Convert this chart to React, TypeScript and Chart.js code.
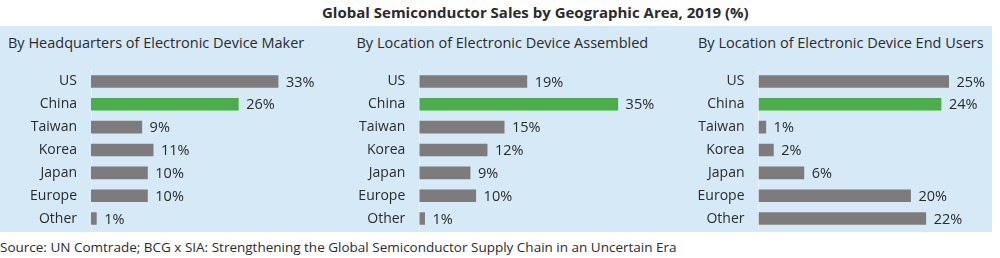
import React, { useEffect, useRef } from "react";
import { Chart, registerables } from "chart.js";

Chart.register(...registerables);

const chartTitle = "Global Semiconductor Sales by Geographic Area, 2019 (%)";
const sourceText =
  "Source: UN Comtrade; BCG x SIA: Strengthening the Global Semiconductor Supply Chain in an Uncertain Era";

const categories = ["US", "China", "Taiwan", "Korea", "Japan", "Europe", "Other"];
const panelTitles = [
  "By Headquarters of Electronic Device Maker",
  "By Location of Electronic Device Assembled",
  "By Location of Electronic Device End Users",
];
const hqValues = [33, 26, 9, 11, 10, 10, 1];
const assembledValues = [19, 35, 15, 12, 9, 10, 1];
const endUserValues = [25, 24, 1, 2, 6, 20, 22];

const GRAY = "#7e7b7c";
const GREEN = "#4cae4a";
const BLUE_BG = "#d5e9f7";
const TEXT = "#2b2b2b";
const FONT = "'Open Sans', sans-serif";

// layout per panel (page coordinates)
const panelLayout = [
  { canvasLeft: 0, axisX: 91, pxPerPct: 5.68, xMax: 40, titleX: 8 },
  { canvasLeft: 330, axisX: 419.3, pxPerPct: 5.68, xMax: 40, titleX: 356.5 },
  { canvasLeft: 670, axisX: 758.5, pxPerPct: 7.62, xMax: 26, titleX: 698 },
];
const CANVAS_TOP = 70;
const CANVAS_H = 160;
const RIGHT_PAD = 40;

const valueLabels = {
  id: "valueLabels",
  afterDatasetsDraw(chart: any) {
    const ctx = chart.ctx;
    const meta = chart.getDatasetMeta(0);
    const data = chart.data.datasets[0].data;
    ctx.save();
    ctx.font = `14.5px ${FONT}`;
    ctx.fillStyle = TEXT;
    ctx.textAlign = "left";
    ctx.textBaseline = "middle";
    meta.data.forEach((bar: any, i: number) => {
      ctx.fillText(`${data[i]}%`, bar.x + 7.5, bar.y + 1);
    });
    ctx.restore();
  },
};

function Panel({ values, idx }: { values: number[]; idx: number }) {
  const ref = useRef<HTMLCanvasElement>(null);
  const lay = panelLayout[idx];
  const yWidth = lay.axisX - lay.canvasLeft;
  const width = Math.round(yWidth + lay.xMax * lay.pxPerPct + RIGHT_PAD);
  useEffect(() => {
    if (!ref.current) return;
    const chart = new Chart(ref.current, {
      type: "bar",
      data: {
        labels: categories,
        datasets: [
          {
            data: values,
            backgroundColor: categories.map((c) => (c === "China" ? GREEN : GRAY)),
            barPercentage: 0.55,
            categoryPercentage: 1,
          },
        ],
      },
      options: {
        indexAxis: "y",
        animation: false,
        responsive: false,
        maintainAspectRatio: false,
        layout: { padding: { left: 0, right: width - yWidth - lay.xMax * lay.pxPerPct, top: 0, bottom: 0 } },
        plugins: { legend: { display: false }, tooltip: { enabled: false }, title: { display: false } },
        scales: {
          x: { display: false, min: 0, max: lay.xMax },
          y: {
            afterFit: (scale: any) => {
              scale.width = yWidth;
              scale.paddingTop = 0;
              scale.paddingBottom = 0;
            },
            grid: { display: false, drawTicks: false },
            border: { display: true, color: "#e9f2f9", width: 1 },
            ticks: { color: TEXT, font: { family: FONT, size: 14 }, padding: 14 },
          },
        },
      },
      plugins: [valueLabels],
    });
    return () => chart.destroy();
  }, []);
  return (
    <canvas
      ref={ref}
      width={width}
      height={CANVAS_H}
      style={{ position: "absolute", left: lay.canvasLeft, top: CANVAS_TOP, width, height: CANVAS_H }}
    />
  );
}

export default function App() {
  const series = [hqValues, assembledValues, endUserValues];
  return (
    <div
      style={{
        position: "absolute",
        left: 0,
        top: 0,
        width: 1000,
        height: 258,
        overflow: "hidden",
        background: "#ffffff",
        fontFamily: FONT,
        color: TEXT,
      }}
    >
      <div
        style={{
          position: "absolute",
          left: 322,
          top: 2,
          fontSize: 15,
          fontWeight: 700,
          whiteSpace: "nowrap",
          lineHeight: "20px",
        }}
      >
        {chartTitle}
      </div>
      <div style={{ position: "absolute", left: 0, top: 26, width: 992, height: 206, background: BLUE_BG }} />
      {panelTitles.map((t, i) => (
        <div
          key={t}
          style={{
            position: "absolute",
            left: panelLayout[i].titleX,
            top: 33,
            fontSize: 14.5,
            whiteSpace: "nowrap",
            lineHeight: "20px",
          }}
        >
          {t}
        </div>
      ))}
      {series.map((v, i) => (
        <Panel key={i} values={v} idx={i} />
      ))}
      <div
        style={{
          position: "absolute",
          left: 0,
          top: 237,
          fontSize: 13.5,
          whiteSpace: "nowrap",
          lineHeight: "20px",
        }}
      >
        {sourceText}
      </div>
    </div>
  );
}
